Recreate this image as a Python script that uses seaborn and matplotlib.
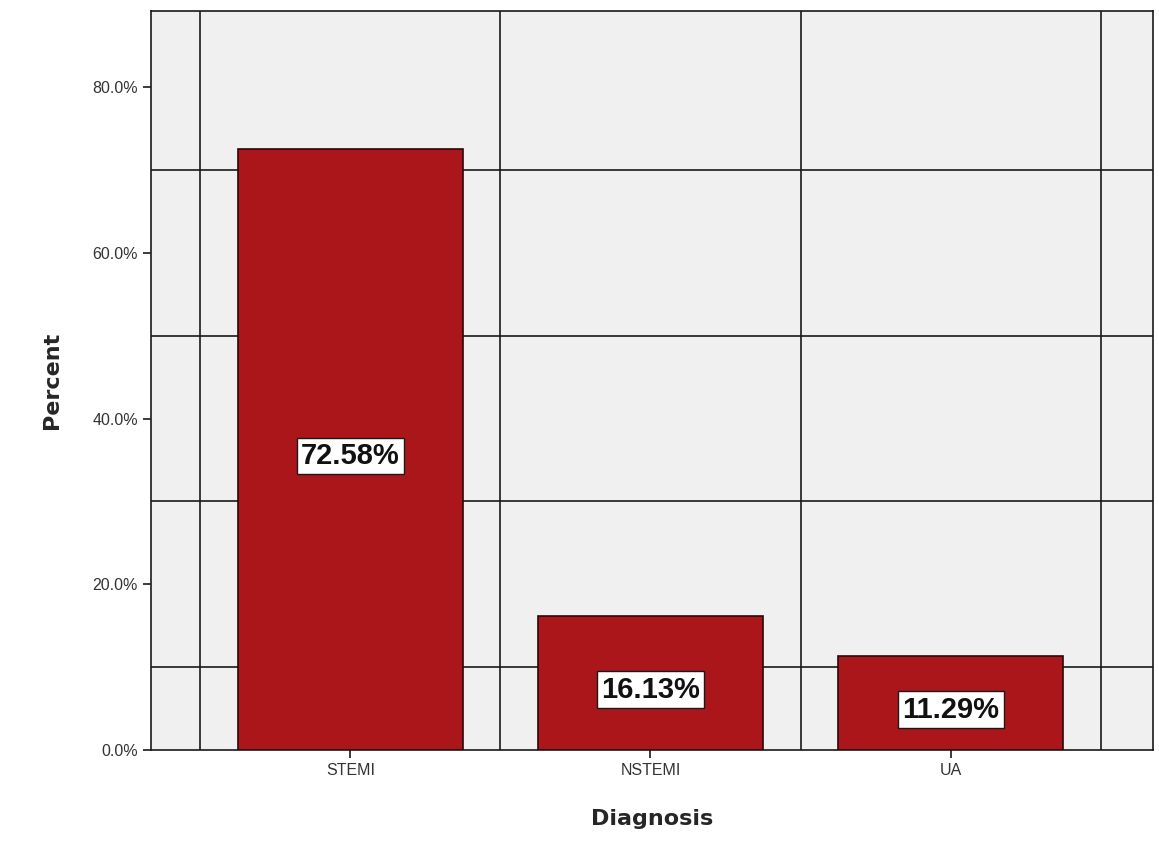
import numpy as np
import pandas as pd
import matplotlib.pyplot as plt
import seaborn as sns

# data
diagnosis = ["STEMI", "NSTEMI", "UA"]
percent = [72.58, 16.13, 11.29]
y_ticks = [0, 20, 40, 60, 80]
grid_y = [10, 30, 50, 70]

df = pd.DataFrame({"Diagnosis": diagnosis, "Percent": percent})

sns.set_style("ticks")
plt.rcParams["font.family"] = ["Liberation Sans", "DejaVu Sans"]

fig = plt.figure(figsize=(11.59, 8.48), dpi=100)
ax = fig.add_axes([0.1303, 0.1156, 0.8645, 0.8714])
ax.set_facecolor("#f0f0f0")

sns.barplot(data=df, x="Diagnosis", y="Percent", color="#ab161a",
            saturation=1, width=0.75, edgecolor="#2a0808", linewidth=1.2,
            ax=ax, zorder=3)

# grid lines between categories and at odd tens
for g in grid_y:
    ax.axhline(g, color="#1a1a1a", lw=1.2, zorder=1)
for i in range(len(diagnosis) + 1):
    ax.axvline(i - 0.5, color="#1a1a1a", lw=1.2, zorder=1)

# value labels, a bit below the bar middle
for i, v in enumerate(percent):
    ax.text(i, v / 2 - 0.8, f"{v:.2f}%", ha="center", va="center", fontsize=21,
            fontweight="bold", color="#111111", zorder=5,
            bbox=dict(boxstyle="square,pad=0.15", fc="white", ec="#1a1a1a", lw=1))

ax.set_xlim(-0.664, 2.674)
ax.set_ylim(0, 89.2)
ax.set_yticks(y_ticks)
ax.set_yticklabels([f"{t:.1f}%" for t in y_ticks])
ax.tick_params(axis="both", labelsize=11.5, colors="#1a1a1a", length=6, width=1.2)
ax.tick_params(axis="both", labelcolor="#333333")

for s in ax.spines.values():
    s.set_color("#1a1a1a")
    s.set_linewidth(1.2)

ax.set_xlabel("Diagnosis", fontsize=16, fontweight="bold", labelpad=22, family="DejaVu Sans")
ax.set_ylabel("Percent", fontsize=16, fontweight="bold", labelpad=22, family="DejaVu Sans")

fig.savefig("out.png", dpi=100, facecolor="white")
